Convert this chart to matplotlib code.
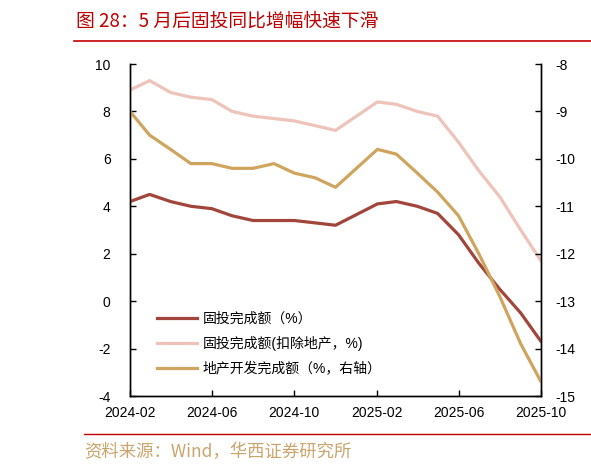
import matplotlib
matplotlib.use("Agg")
import matplotlib.pyplot as plt
from matplotlib.lines import Line2D
import datetime as dt

plt.rcParams['font.family'] = ['Liberation Sans', 'Noto Sans CJK SC', 'DejaVu Sans']
plt.rcParams['axes.unicode_minus'] = False

months = ["2024-02", "2024-03", "2024-04", "2024-05", "2024-06", "2024-07", "2024-08",
          "2024-09", "2024-10", "2024-11", "2024-12", "2025-02", "2025-03", "2025-04",
          "2025-05", "2025-06", "2025-07", "2025-08", "2025-09", "2025-10"]
fai_total = [4.2, 4.5, 4.2, 4.0, 3.9, 3.6, 3.4, 3.4, 3.4, 3.3, 3.2,
             4.1, 4.2, 4.0, 3.7, 2.8, 1.6, 0.5, -0.5, -1.7]
fai_ex_re = [8.9, 9.3, 8.8, 8.6, 8.5, 8.0, 7.8, 7.7, 7.6, 7.4, 7.2,
             8.4, 8.3, 8.0, 7.8, 6.7, 5.5, 4.4, 3.0, 1.7]
re_invest = [-9.0, -9.5, -9.8, -10.1, -10.1, -10.2, -10.2, -10.1, -10.3, -10.4, -10.6,
             -9.8, -9.9, -10.3, -10.7, -11.2, -12.0, -12.9, -13.9, -14.7]
tick_labels = ["2024-02", "2024-06", "2024-10", "2025-02", "2025-06", "2025-10"]
series_names = ["固投完成额（%）", "固投完成额(扣除地产，%)", "地产开发完成额（%，右轴）"]

dates = [dt.datetime.strptime(m, "%Y-%m") for m in months]
tick_dates = [dt.datetime.strptime(m, "%Y-%m") for m in tick_labels]

c_red = "#A2453B"
c_pink = "#EEC3B9"
c_gold = "#CFA55E"

fig = plt.figure(figsize=(5.91, 4.71), dpi=100)
ax = fig.add_axes([130/591, 1-396/471, (541-130)/591, (396-64)/471])
ax2 = ax.twinx()

lw = 2.3
ax.plot(dates, fai_total, color=c_red, lw=lw, solid_capstyle='round',
        solid_joinstyle='round', zorder=3)
ax.plot(dates, fai_ex_re, color=c_pink, lw=lw, solid_capstyle='round',
        solid_joinstyle='round', zorder=2)
ax2.plot(dates, re_invest, color=c_gold, lw=lw, solid_capstyle='round',
         solid_joinstyle='round', zorder=2)

ax.set_xlim(tick_dates[0], tick_dates[-1])
ax.set_ylim(-4, 10)
ax.set_yticks(range(-4, 11, 2))
ax2.set_ylim(-15, -8)
ax2.set_yticks(range(-15, -7, 1))
ax.set_xticks(tick_dates)
ax.set_xticklabels(tick_labels)

for a in (ax, ax2):
    a.spines['top'].set_visible(False)
    for s in ('left', 'right', 'bottom'):
        a.spines[s].set_linewidth(1.0)
        a.spines[s].set_color('black')
    a.tick_params(direction='in', length=4, width=1, labelsize=10, colors='black')
ax.tick_params(axis='y', pad=14)
ax2.tick_params(axis='y', pad=10)
ax.tick_params(axis='x', pad=7)

handles = [Line2D([], [], color=c, lw=lw) for c in (c_red, c_pink, c_gold)]
fig.legend(handles, series_names, loc='upper left', bbox_to_anchor=(151/591, 1-306/471),
           frameon=False, fontsize=10, handlelength=2.9, handletextpad=0.4,
           labelspacing=0.75, borderaxespad=0)

# title
fig.text(76/591, 1-21/471, "图 28：5 月后固投同比增幅快速下滑", color="#C00000",
         fontsize=13.5, va='center', ha='left', family=['Noto Sans CJK SC', 'DejaVu Sans'])
fig.add_artist(Line2D([74/591, 1.0], [1-40.5/471, 1-40.5/471], color="#C00000", lw=1.2))
fig.add_artist(Line2D([84/591, 1.0], [1-434/471, 1-434/471], color="#C00000", lw=1.0))
fig.text(84/591, 1-452/471, "资料来源：Wind，华西证券研究所", color="#C9A46C",
         fontsize=12.5, va='center', ha='left', family=['Noto Sans CJK SC', 'DejaVu Sans'])

fig.savefig("out.png", dpi=100)
